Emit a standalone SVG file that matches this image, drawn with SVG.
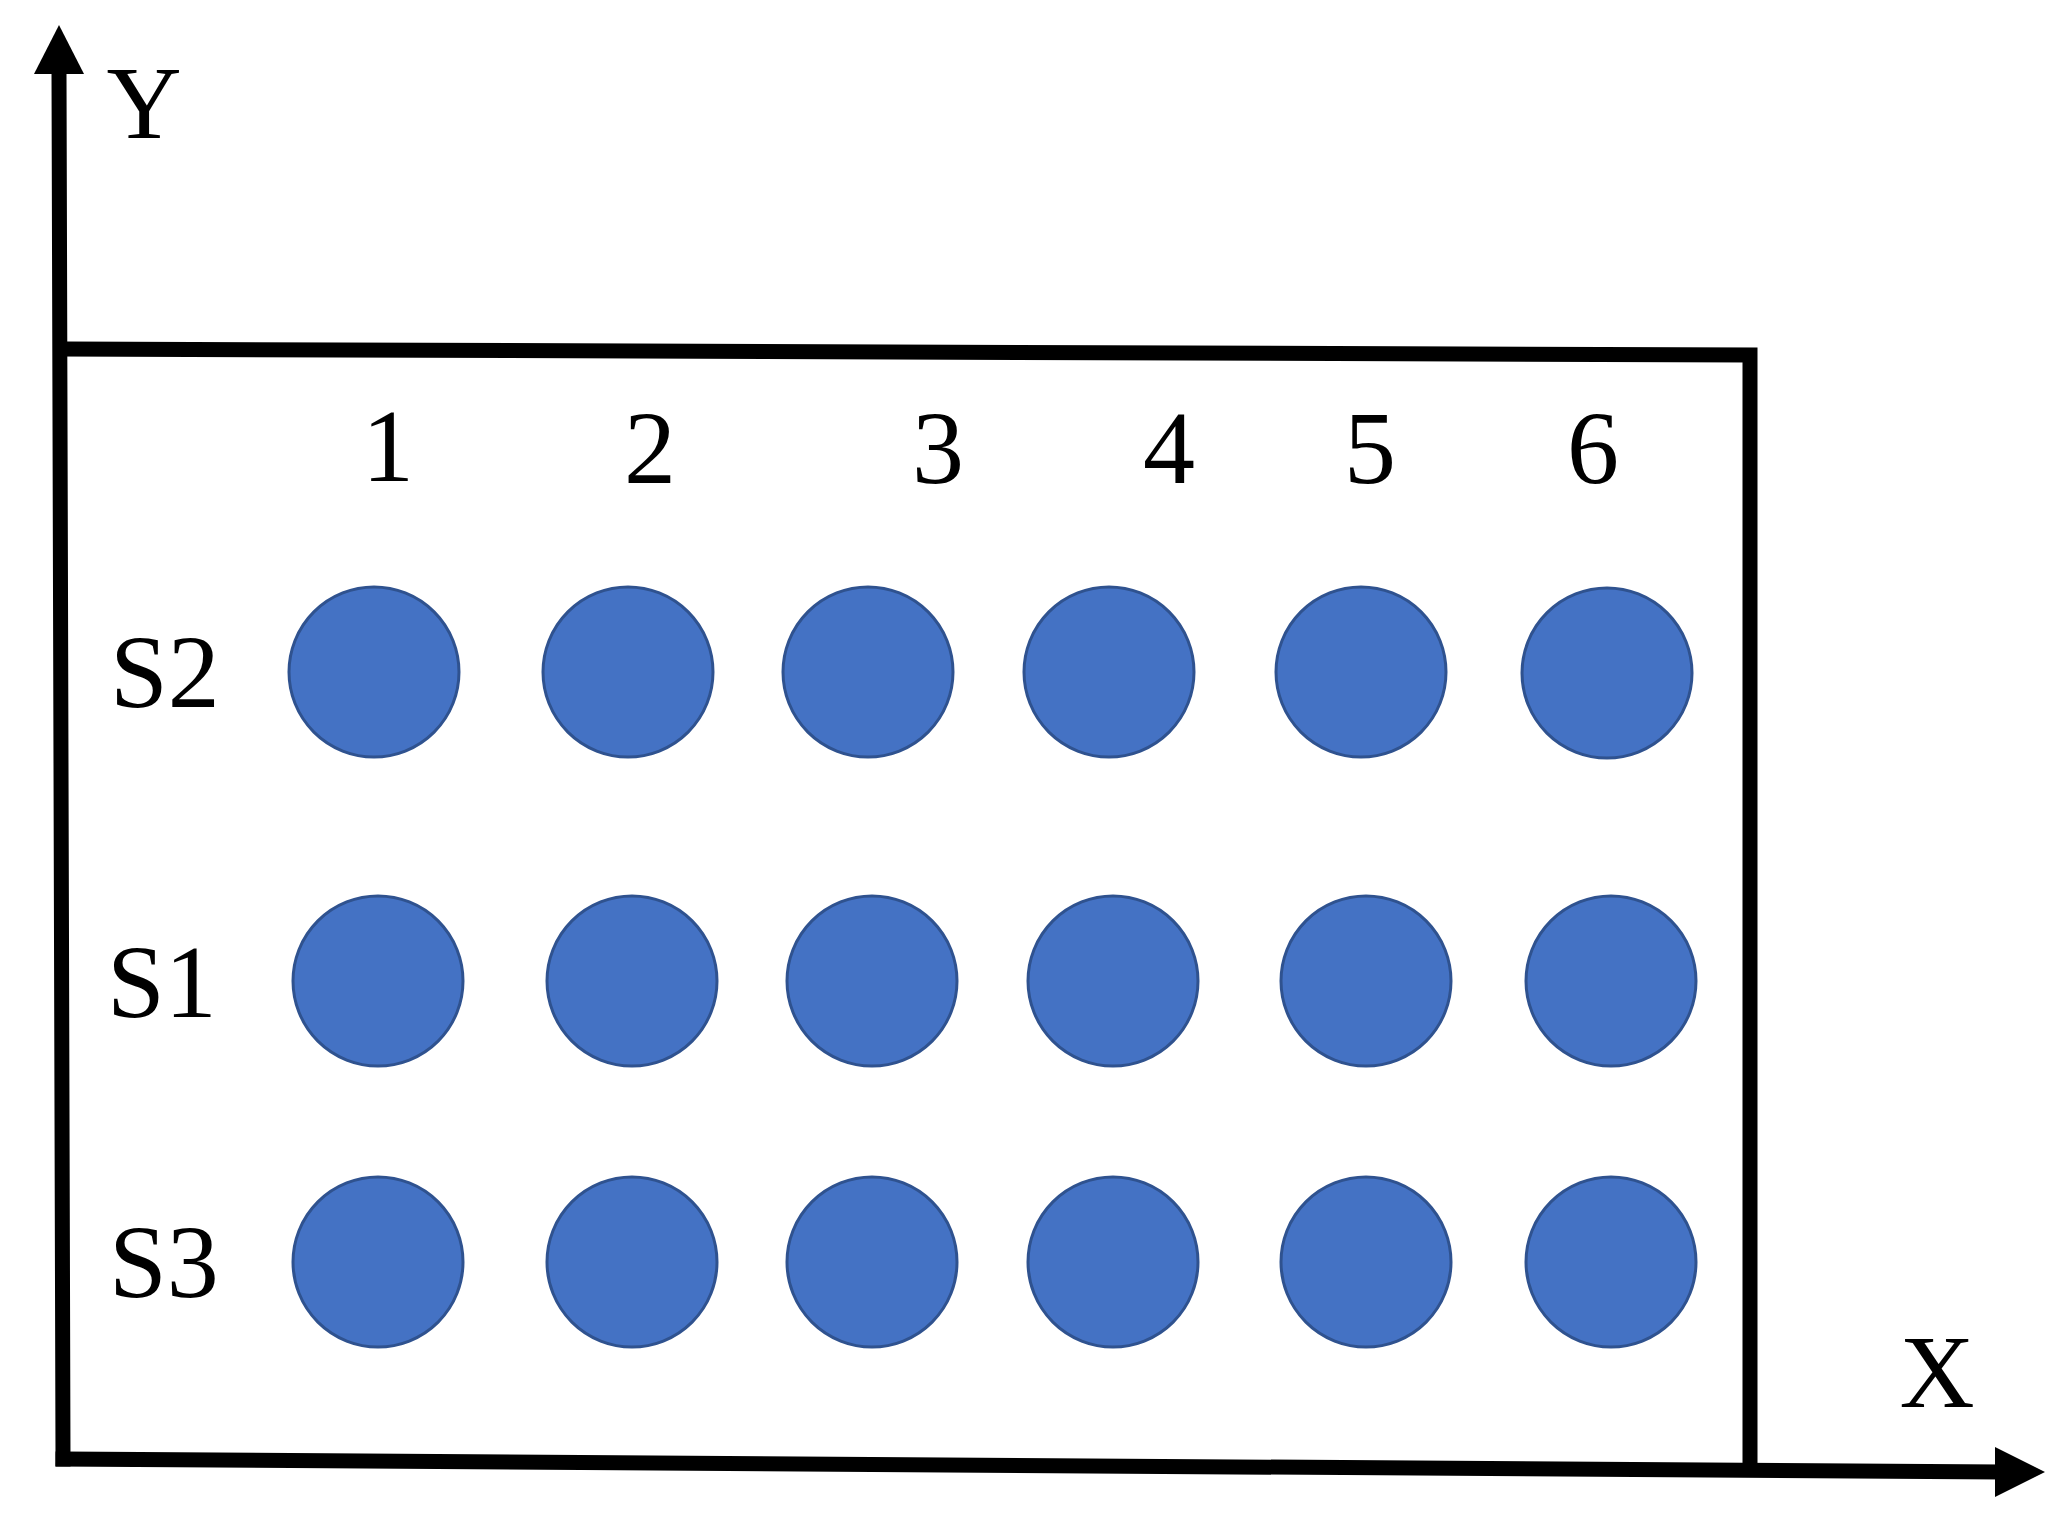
<svg xmlns="http://www.w3.org/2000/svg" width="2062" height="1525" viewBox="0 0 2062 1525">
<style>
.ln{stroke:#000;stroke-width:15;fill:none;stroke-linecap:square}
.dot{fill:#4472C4;stroke:#2F528F;stroke-width:3}
text{font-family:'Liberation Serif','Times New Roman','Nimbus Roman','Nimbus Roman No9 L',Tinos,FreeSerif,'Noto Serif',serif;font-size:104px;fill:#000}
.c{text-anchor:middle}
</style>
<rect width="2062" height="1525" fill="#fff"/>
<g id="connectors">
<path class="ln" d="M63,1459 L59,72"/>
<polygon points="59,25 34,74 84,74" fill="#000"/>
<path class="ln" d="M66,349 L1750,355 L1750,1468"/>
<path class="ln" d="M63,1459 L1995,1472"/>
<polygon points="2045,1472 1995,1447 1995,1497" fill="#000"/>
</g>
<g id="axis-labels">
<text class="c" x="144" y="138">Y</text>
<text class="c" x="1937" y="1407">X</text>
</g>
<g id="column-labels">
<text class="c" x="388" y="481">1</text>
<text class="c" x="650" y="483">2</text>
<text class="c" x="938" y="483">3</text>
<text class="c" x="1169" y="483">4</text>
<text class="c" x="1370" y="483">5</text>
<text class="c" x="1593" y="483">6</text>
</g>
<g id="row-labels">
<text x="110" y="707">S2</text>
<text x="107" y="1017">S1</text>
<text x="109" y="1297">S3</text>
</g>
<g id="row-S2">
<circle id="S2-1" class="dot" cx="374" cy="672" r="85"/>
<circle id="S2-2" class="dot" cx="628" cy="672" r="85"/>
<circle id="S2-3" class="dot" cx="868" cy="672" r="85"/>
<circle id="S2-4" class="dot" cx="1109" cy="672" r="85"/>
<circle id="S2-5" class="dot" cx="1361" cy="672" r="85"/>
<circle id="S2-6" class="dot" cx="1607" cy="673" r="85"/>
</g>
<g id="row-S1">
<circle id="S1-1" class="dot" cx="378" cy="981" r="85"/>
<circle id="S1-2" class="dot" cx="632" cy="981" r="85"/>
<circle id="S1-3" class="dot" cx="872" cy="981" r="85"/>
<circle id="S1-4" class="dot" cx="1113" cy="981" r="85"/>
<circle id="S1-5" class="dot" cx="1366" cy="981" r="85"/>
<circle id="S1-6" class="dot" cx="1611" cy="981" r="85"/>
</g>
<g id="row-S3">
<circle id="S3-1" class="dot" cx="378" cy="1262" r="85"/>
<circle id="S3-2" class="dot" cx="632" cy="1262" r="85"/>
<circle id="S3-3" class="dot" cx="872" cy="1262" r="85"/>
<circle id="S3-4" class="dot" cx="1113" cy="1262" r="85"/>
<circle id="S3-5" class="dot" cx="1366" cy="1262" r="85"/>
<circle id="S3-6" class="dot" cx="1611" cy="1262" r="85"/>
</g>
</svg>
